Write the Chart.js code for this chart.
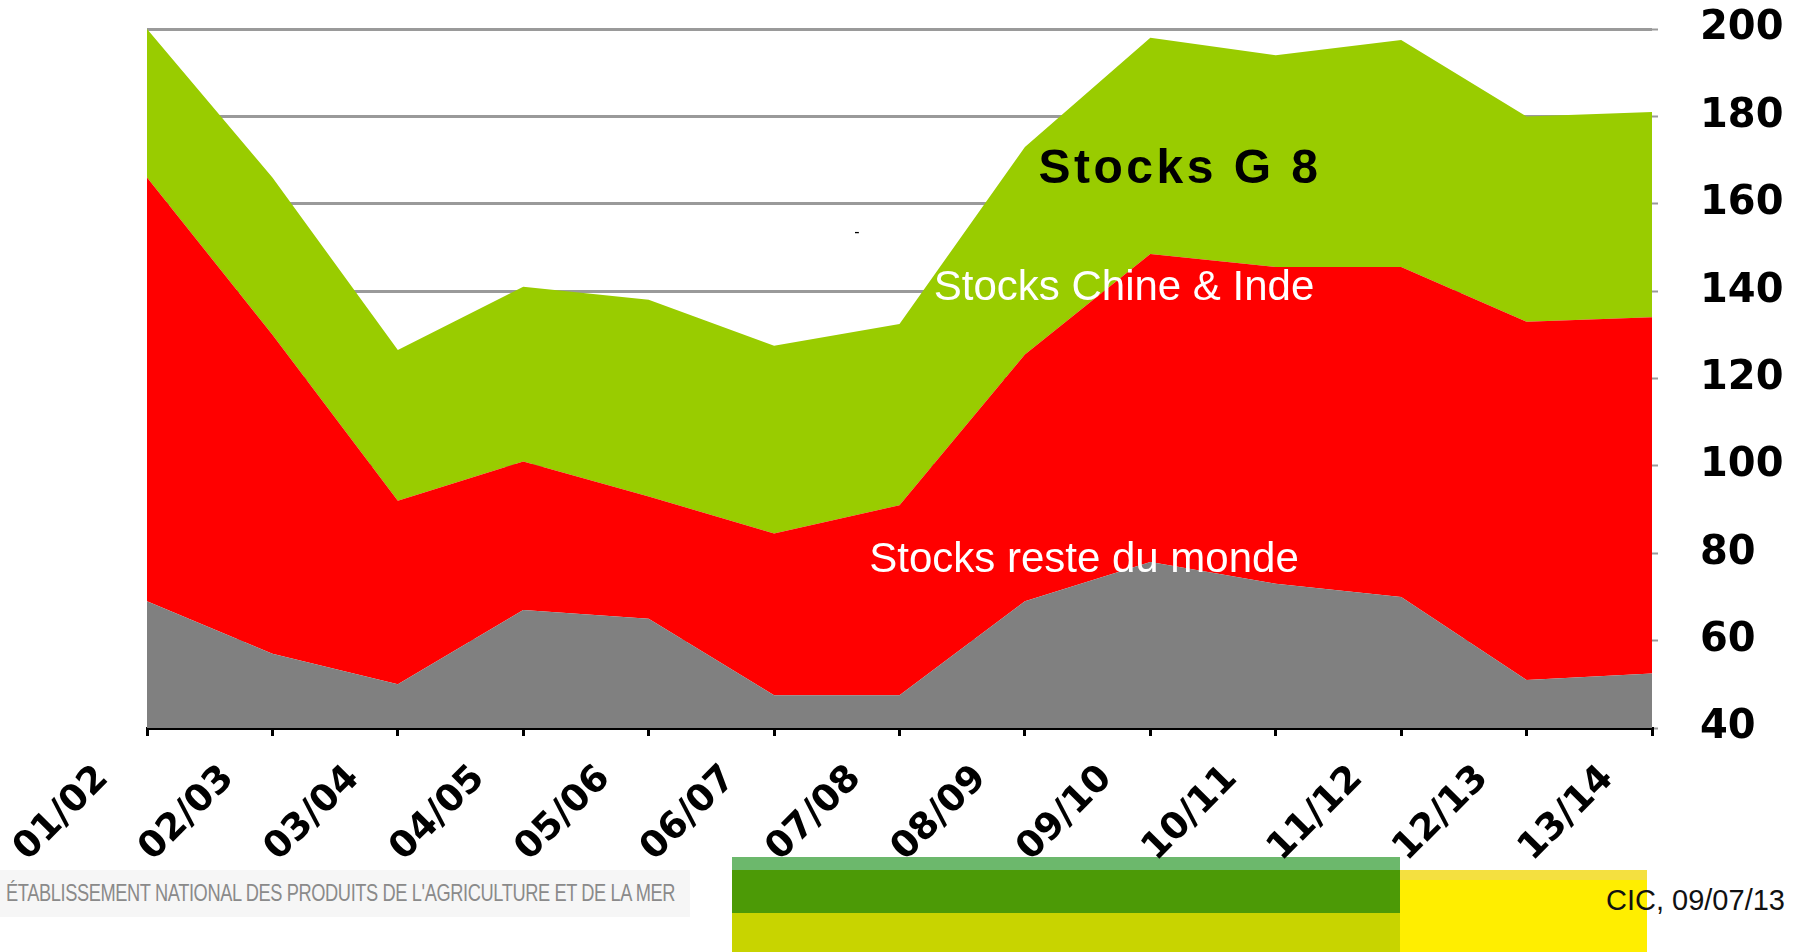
<!DOCTYPE html>
<html>
<head>
<meta charset="utf-8">
<script src="https://cdn.jsdelivr.net/npm/chart.js@4.4.1/dist/chart.umd.min.js"></script>
<style>
  body { margin: 0; background: #fff; }
  #wrap { position: relative; width: 1803px; height: 952px; overflow: hidden; background: #fff; }
  #wrap canvas { position: absolute; left: 0; top: 0; }
  .band { position: absolute; }
  #footer { position: absolute; left: 0; top: 870px; width: 690px; height: 47px; background: #f6f6f6; }
  #footer span { position: absolute; left: 6px; top: 9px; font: 24px 'Liberation Sans', Arial, sans-serif; color: #8a8a8a; white-space: nowrap; transform-origin: left center; letter-spacing: -0.5px; }
  #source { position: absolute; left: 1606px; top: 884px; font: 29px 'Liberation Sans', Arial, sans-serif; color: #111; white-space: nowrap; }
</style>
</head>
<body>
<div id="wrap">
  <div class="band" style="left:732px;top:857px;width:668px;height:13px;background:#6cb86c"></div>
  <div class="band" style="left:732px;top:870px;width:668px;height:43px;background:#4c9a06"></div>
  <div class="band" style="left:732px;top:913px;width:668px;height:39px;background:#c8d400"></div>
  <div class="band" style="left:1400px;top:870px;width:247px;height:10px;background:#f4e040"></div>
  <div class="band" style="left:1400px;top:880px;width:247px;height:72px;background:#ffee00"></div>
  <div id="footer"><span id="footerText">ÉTABLISSEMENT NATIONAL DES PRODUITS DE L'AGRICULTURE ET DE LA MER</span></div>
  <div id="source">CIC, 09/07/13</div>
  <canvas id="chart" width="1803" height="952"></canvas>
</div>
<script>
const campagnes = ['01/02', '02/03', '03/04', '04/05', '05/06', '06/07', '07/08', '08/09', '09/10', '10/11', '11/12', '12/13', '13/14'];
// stacked layers, bottom to top (million t)
const stocksResteMonde = [69, 57, 50, 67, 65, 47.5, 47.5, 69, 78, 73, 70, 51, 52.5];
const stocksChineInde = [97, 73, 42, 34, 28, 37, 43.5, 56.5, 70.5, 72.5, 75.5, 82, 81.5];
const stocksG8 = [34, 36, 34.5, 40, 45, 43, 41.5, 47.5, 49.5, 48.5, 52, 47, 47];
const yTicks = [40, 60, 80, 100, 120, 140, 160, 180, 200];

const ft = document.getElementById('footerText');
ft.style.transform = `scaleX(${669 / ft.offsetWidth})`;

const notes = {
  id: 'notes',
  afterDatasetsDraw(chart) {
    const { ctx } = chart;
    ctx.save();
    ctx.textAlign = 'center';
    ctx.textBaseline = 'middle';
    ctx.fillStyle = '#000';
    ctx.font = "bold 48px 'Liberation Sans', Arial, sans-serif";
    ctx.letterSpacing = '3.5px';
    ctx.fillText('Stocks G 8', 1180, 170);
    ctx.letterSpacing = '0px';
    ctx.font = "42px 'Liberation Sans', Arial, sans-serif";
    ctx.fillStyle = '#fff';
    ctx.fillText('Stocks Chine & Inde', 1124, 288);
    ctx.fillText('Stocks reste du monde', 1084, 560);
    ctx.fillStyle = '#000';
    ctx.font = "16px 'Liberation Sans', Arial, sans-serif";
    ctx.fillText('-', 857, 233);
    ctx.restore();
  }
};

const ctx = document.getElementById('chart').getContext('2d');
new Chart(ctx, {
  type: 'line',
  data: {
    labels: campagnes,
    datasets: [
      { label: 'Stocks reste du monde', data: stocksResteMonde, backgroundColor: '#808080', fill: 'origin' },
      { label: 'Stocks Chine & Inde', data: stocksChineInde, backgroundColor: '#ff0000', fill: '-1' },
      { label: 'Stocks G 8', data: stocksG8, backgroundColor: '#99cc00', fill: '-1' },
    ].map((d) => ({ ...d, borderWidth: 0, pointRadius: 0, tension: 0 })),
  },
  options: {
    responsive: false,
    animation: false,
    layout: { padding: { left: 147, top: 29, right: 0, bottom: 0 } },
    plugins: { legend: { display: false }, tooltip: { enabled: false } },
    scales: {
      x: {
        grid: { display: true, drawOnChartArea: false, drawTicks: true, tickLength: 8, color: '#000', lineWidth: 3 },
        border: { display: true, color: '#000', width: 3 },
        ticks: {
          autoSkip: false,
          maxRotation: 45,
          minRotation: 45,
          color: '#000',
          padding: 21,
          labelOffset: -44,
          font: { family: "'DejaVu Sans', sans-serif", weight: 'bold', size: 37 },
        },
        afterFit(scale) { scale.height = 224; },
      },
      y: {
        position: 'right',
        stacked: true,
        min: 40,
        max: 200,
        afterBuildTicks(scale) { scale.ticks = yTicks.map((v) => ({ value: v })); },
        grid: { color: '#9a9a9a', lineWidth: 3, tickLength: 48, tickColor: '#9a9a9a', tickWidth: 2, tickBorderDash: [6, 200] },
        border: { display: false },
        ticks: {
          color: '#000',
          padding: 0,
          font: { family: "'DejaVu Sans', sans-serif", weight: 'bold', size: 40 },
        },
        afterFit(scale) { scale.width = 151; },
      },
    },
  },
  plugins: [notes],
});
</script>
</body>
</html>
